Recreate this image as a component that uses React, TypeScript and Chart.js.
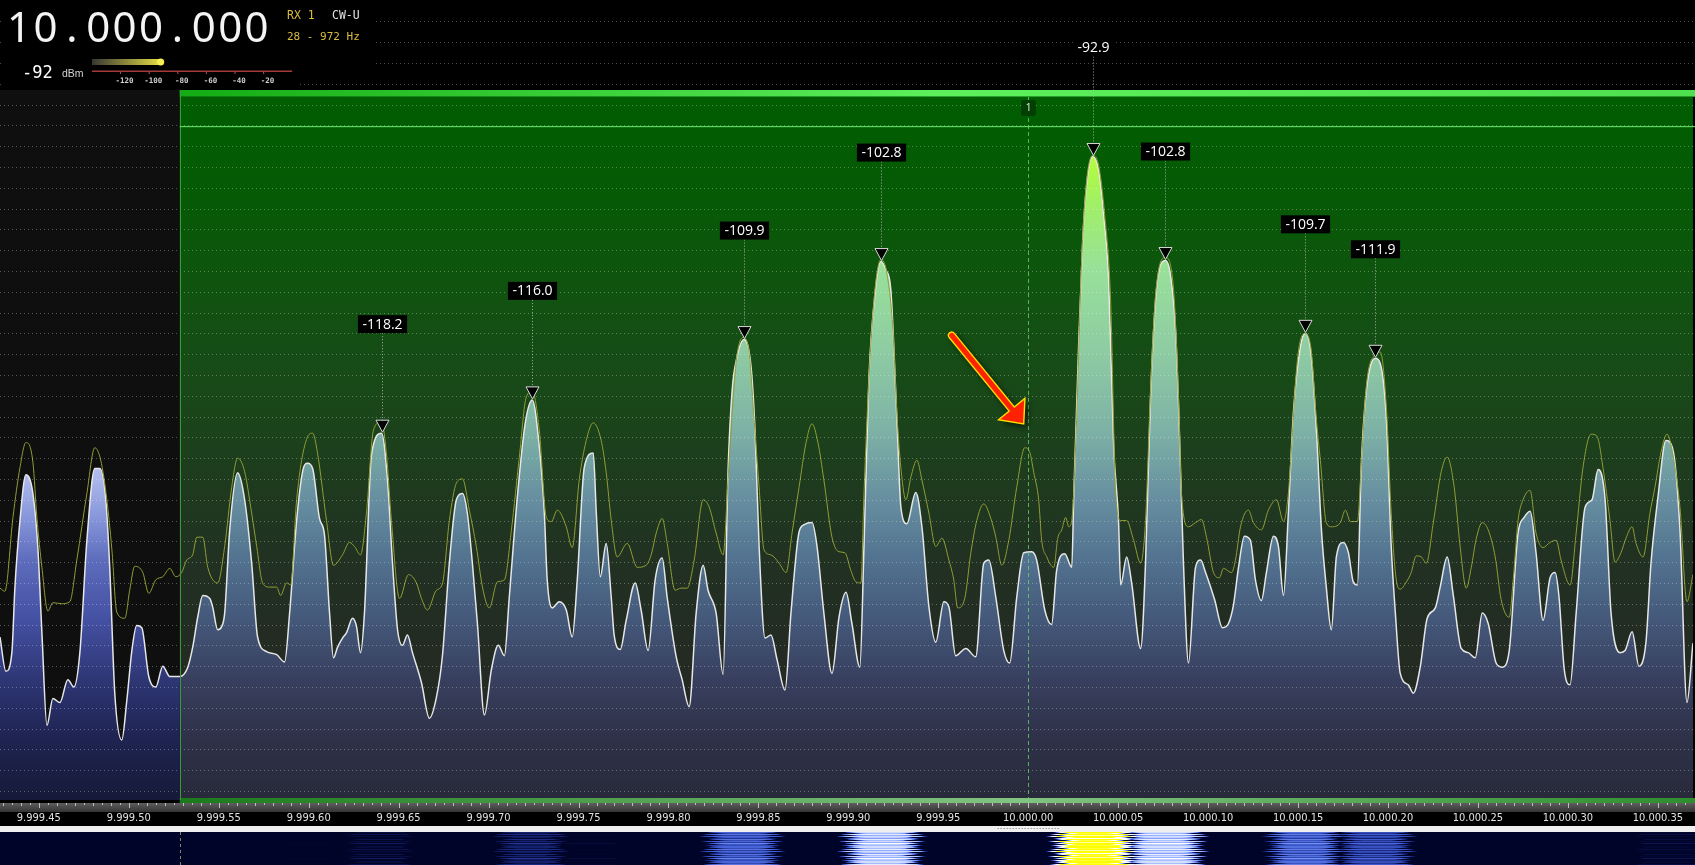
import React, { useEffect, useRef } from 'react';
import { Chart, registerables } from 'chart.js';

Chart.register(...registerables);

const CANVAS_W = 1695;
const CANVAS_H = 865;

// x values: offset in Hz from 10,000.000 kHz ; y values: dBm
const X_MIN_HZ = -571.6;
const X_MAX_HZ = 369.5;
const Y_MIN_DB = -154.87;
const Y_MAX_DB = -77.95;
const GRID_STEP_DB = 2;

const tickHz = [-550, -500, -450, -400, -350, -300, -250, -200, -150, -100, -50, 0, 50, 100, 150, 200, 250, 300, 350];
const tickLabels = ['9.999.45', '9.999.50', '9.999.55', '9.999.60', '9.999.65', '9.999.70', '9.999.75', '9.999.80', '9.999.85', '9.999.90', '9.999.95', '10.000.00', '10.000.05', '10.000.10', '10.000.15', '10.000.20', '10.000.25', '10.000.30', '10.000.35'];

// live spectrum [Hz offset, dBm]
const liveTrace: [number, number][] = [
  [-571.6,-139.2],[-568.3,-142.5],[-565.0,-140.7],[-563.3,-134.4],[-560.5,-128.0],[-557.2,-123.6],[-553.3,-125.4],[-550.5,-130.8],[-548.3,-138.8],[-545.5,-147.7],
  [-542.2,-145.1],[-538.3,-145.5],[-533.9,-143.3],[-530.5,-144.0],[-527.2,-140.7],[-523.3,-129.9],[-518.9,-123.0],[-516.1,-123.0],[-512.8,-126.0],[-510.6,-132.5],
  [-507.8,-144.6],[-503.9,-149.1],[-501.1,-145.3],[-498.3,-140.5],[-495.6,-138.1],[-492.8,-138.3],[-488.9,-143.0],[-485.0,-144.0],[-481.1,-142.0],[-477.2,-143.0],
  [-471.7,-143.0],[-467.2,-142.1],[-464.5,-140.2],[-461.7,-137.3],[-458.9,-135.2],[-455.0,-135.5],[-453.4,-136.3],[-450.6,-138.5],[-448.4,-138.2],[-446.7,-136.9],
  [-443.9,-128.9],[-439.5,-123.4],[-435.6,-126.0],[-431.7,-132.1],[-428.4,-139.2],[-423.4,-140.6],[-417.8,-140.9],[-413.4,-141.6],[-410.6,-136.9],[-406.7,-128.0],
  [-403.4,-123.3],[-400.6,-122.5],[-397.8,-123.0],[-394.0,-127.8],[-391.2,-129.4],[-388.4,-136.9],[-386.2,-141.2],[-384.0,-140.2],[-381.2,-139.3],[-379.0,-138.8],
  [-375.6,-137.4],[-373.4,-138.2],[-371.2,-140.7],[-369.0,-136.9],[-365.1,-121.7],[-359.5,-119.6],[-356.2,-124.1],[-353.4,-132.1],[-350.6,-138.5],[-347.9,-140.0],
  [-345.1,-139.0],[-342.3,-140.7],[-337.3,-143.6],[-332.9,-147.0],[-329.0,-145.0],[-325.7,-141.1],[-321.8,-132.1],[-317.9,-126.0],[-314.5,-125.4],[-311.8,-127.3],
  [-309.0,-132.1],[-306.2,-137.9],[-302.3,-146.7],[-298.5,-142.4],[-294.6,-140.0],[-291.2,-141.0],[-288.5,-135.4],[-284.0,-125.7],[-279.6,-118.6],[-275.7,-116.4],
  [-271.8,-120.9],[-269.0,-127.3],[-267.4,-133.7],[-264.6,-136.4],[-260.7,-135.8],[-256.8,-136.6],[-253.5,-139.2],[-250.7,-133.7],[-246.8,-122.9],[-241.8,-121.5],
  [-240.1,-127.3],[-237.9,-133.4],[-234.6,-130.2],[-231.8,-135.4],[-230.2,-139.0],[-226.8,-140.4],[-223.5,-137.6],[-218.5,-134.0],[-215.2,-136.6],[-211.3,-140.5],
  [-207.4,-133.7],[-203.5,-131.6],[-200.7,-135.4],[-195.7,-141.1],[-192.4,-143.3],[-188.5,-145.9],[-184.6,-136.9],[-180.7,-132.3],[-178.0,-134.7],[-173.5,-136.9],
  [-169.6,-142.8],[-166.9,-123.4],[-164.6,-115.5],[-161.9,-112.3],[-158.0,-110.6],[-154.1,-113.2],[-151.9,-119.3],[-149.6,-130.5],[-146.3,-139.3],[-143.0,-139.0],
  [-139.6,-141.4],[-135.2,-144.3],[-131.9,-136.9],[-127.4,-129.1],[-124.6,-128.4],[-120.2,-128.2],[-117.4,-130.5],[-113.6,-136.9],[-109.1,-142.7],[-105.2,-137.3],
  [-101.3,-134.9],[-98.0,-137.9],[-93.6,-142.1],[-91.3,-130.5],[-88.6,-114.5],[-84.7,-105.5],[-81.9,-103.1],[-79.1,-103.9],[-76.4,-105.8],[-73.0,-118.3],
  [-70.8,-126.7],[-67.5,-128.3],[-62.5,-125.3],[-59.1,-128.6],[-55.2,-136.3],[-51.4,-139.7],[-46.9,-135.8],[-44.1,-136.3],[-40.3,-141.0],[-34.7,-140.3],
  [-29.2,-141.1],[-24.7,-132.1],[-21.9,-131.8],[-18.0,-135.4],[-13.6,-140.5],[-10.3,-141.7],[-6.4,-135.4],[-2.5,-131.1],[1.9,-131.0],[4.7,-131.8],
  [9.2,-136.6],[13.0,-138.0],[15.8,-132.8],[20.3,-131.2],[24.2,-132.5],[25.3,-125.7],[28.0,-111.3],[30.3,-101.0],[32.5,-95.7],[35.8,-93.0],
  [39.1,-94.3],[41.9,-98.6],[44.7,-104.9],[47.5,-120.9],[50.2,-128.0],[51.4,-134.2],[54.7,-131.5],[57.5,-134.0],[62.5,-140.3],[65.2,-132.1],
  [68.0,-116.1],[70.8,-106.8],[73.6,-103.4],[76.3,-103.0],[79.1,-104.4],[81.9,-109.7],[83.6,-117.1],[86.3,-132.1],[89.1,-141.7],[93.0,-132.5],
  [95.8,-131.8],[98.6,-133.0],[103.6,-135.6],[108.0,-138.3],[111.3,-137.9],[114.1,-136.1],[116.9,-132.5],[120.2,-129.5],[123.5,-129.9],[126.3,-133.7],
  [129.6,-135.7],[132.4,-133.0],[136.3,-129.5],[139.1,-130.5],[141.9,-135.2],[144.6,-127.3],[147.4,-117.7],[151.3,-111.3],[154.1,-110.0],[157.4,-112.3],
  [160.2,-119.3],[163.0,-128.9],[165.7,-134.4],[168.5,-138.5],[171.3,-131.5],[175.2,-130.1],[178.0,-131.1],[180.7,-133.9],[183.0,-134.2],[185.2,-122.5],
  [188.0,-115.5],[193.0,-112.4],[195.7,-112.9],[199.1,-118.3],[201.8,-130.5],[204.1,-136.9],[206.8,-142.7],[211.3,-143.8],[214.1,-144.6],[217.9,-142.1],
  [221.8,-137.4],[226.3,-136.4],[229.0,-134.4],[232.9,-131.5],[236.3,-135.2],[240.7,-140.3],[244.6,-140.7],[248.5,-141.2],[252.4,-136.9],[255.7,-137.9],
  [260.1,-141.7],[263.5,-142.1],[267.4,-140.5],[272.3,-129.2],[275.7,-127.7],[279.0,-127.1],[282.3,-131.1],[286.2,-137.6],[290.1,-133.5],[292.9,-133.0],
  [295.1,-135.4],[297.9,-142.2],[301.2,-143.8],[304.6,-136.9],[309.6,-126.7],[313.4,-126.0],[316.8,-123.1],[320.7,-126.0],[324.0,-136.9],[329.0,-140.7],
  [331.8,-140.5],[335.7,-138.7],[339.5,-142.0],[343.4,-139.7],[346.2,-132.1],[350.1,-125.7],[354.5,-120.3],[358.4,-121.2],[362.3,-128.9],[366.2,-145.5],
  [369.5,-139.8],
];

// peak-hold / average trace [Hz offset, dBm]
const holdTrace: [number, number][] = [
  [-571.6,-134.5],[-568.9,-134.8],[-564.4,-127.7],[-560.5,-122.9],[-557.2,-120.5],[-553.3,-122.4],[-551.1,-127.7],[-548.3,-132.5],[-545.0,-136.7],[-542.2,-135.9],
  [-537.2,-136.0],[-532.8,-135.8],[-528.9,-131.8],[-523.3,-125.4],[-518.9,-121.0],[-515.6,-122.2],[-512.2,-126.0],[-509.4,-130.8],[-506.7,-136.8],[-502.2,-137.4],
  [-499.5,-134.7],[-496.7,-132.4],[-492.2,-133.0],[-488.9,-135.0],[-485.0,-133.7],[-481.1,-133.4],[-477.2,-132.6],[-473.9,-133.4],[-470.6,-133.0],[-467.8,-131.8],
  [-464.5,-131.3],[-462.2,-129.6],[-458.9,-129.6],[-456.1,-132.5],[-450.6,-134.0],[-446.7,-130.5],[-442.8,-124.8],[-439.5,-122.0],[-435.6,-123.3],[-431.7,-127.3],
  [-428.9,-130.5],[-425.6,-134.0],[-421.7,-134.4],[-417.8,-134.4],[-415.6,-135.2],[-412.3,-134.0],[-410.0,-134.2],[-406.7,-126.0],[-401.2,-120.2],[-397.8,-119.6],
  [-395.1,-121.5],[-390.1,-128.0],[-386.2,-132.3],[-381.2,-131.3],[-377.3,-130.1],[-374.5,-130.5],[-371.2,-131.3],[-367.9,-127.3],[-364.0,-119.3],[-359.5,-118.5],
  [-356.8,-121.5],[-354.0,-128.0],[-349.5,-135.5],[-344.5,-133.2],[-340.1,-134.0],[-337.3,-135.5],[-334.0,-136.6],[-329.0,-134.7],[-325.7,-134.1],[-321.8,-128.0],
  [-317.9,-124.4],[-314.5,-124.0],[-310.7,-127.0],[-306.8,-130.5],[-303.4,-134.4],[-299.6,-136.4],[-295.1,-133.9],[-291.2,-133.7],[-287.3,-128.9],[-282.9,-121.9],
  [-279.0,-116.1],[-275.7,-115.6],[-271.8,-119.3],[-267.9,-127.7],[-265.1,-128.1],[-261.8,-127.0],[-256.8,-128.6],[-253.5,-130.6],[-249.6,-124.1],[-245.7,-120.3],
  [-241.8,-118.6],[-237.4,-120.3],[-234.6,-123.4],[-231.8,-128.0],[-228.5,-131.5],[-222.9,-130.2],[-217.4,-132.5],[-212.4,-132.3],[-209.6,-131.3],[-206.8,-129.2],
  [-203.5,-127.8],[-200.7,-130.2],[-196.3,-134.7],[-193.0,-134.5],[-189.6,-134.5],[-185.7,-131.8],[-180.7,-126.0],[-177.4,-126.7],[-173.5,-129.2],[-169.6,-131.3],
  [-166.9,-124.1],[-164.1,-116.4],[-161.9,-112.1],[-158.5,-110.4],[-155.2,-111.8],[-152.4,-118.3],[-149.6,-124.8],[-146.9,-130.8],[-143.0,-131.3],[-138.5,-132.1],
  [-134.6,-133.0],[-131.3,-129.2],[-127.4,-124.8],[-123.5,-120.5],[-120.2,-118.7],[-116.9,-120.5],[-113.6,-124.1],[-109.1,-129.6],[-105.2,-131.0],[-101.9,-131.1],
  [-98.6,-132.8],[-95.8,-133.9],[-93.0,-134.0],[-91.3,-125.4],[-88.6,-114.5],[-85.2,-105.8],[-81.9,-102.9],[-78.6,-104.2],[-75.2,-109.7],[-73.0,-117.7],
  [-70.8,-122.9],[-68.0,-126.0],[-65.2,-123.8],[-61.9,-122.2],[-59.1,-124.1],[-55.2,-127.3],[-51.4,-130.5],[-48.0,-129.7],[-44.1,-131.8],[-41.4,-133.7],
  [-39.2,-136.4],[-35.3,-135.5],[-31.9,-131.1],[-28.6,-128.0],[-24.7,-126.4],[-20.8,-127.8],[-18.0,-129.6],[-14.7,-132.3],[-10.8,-129.9],[-6.4,-124.8],
  [-1.9,-121.0],[0.8,-121.4],[3.1,-123.4],[5.8,-126.0],[7.5,-129.9],[10.3,-131.5],[14.2,-132.5],[16.4,-129.7],[18.6,-128.9],[20.8,-127.7],
  [22.5,-128.6],[24.2,-128.0],[26.9,-118.3],[29.7,-103.0],[32.5,-95.3],[35.8,-92.9],[39.1,-93.8],[42.5,-98.6],[45.8,-106.8],[48.6,-125.4],
  [51.4,-128.0],[54.7,-128.0],[58.6,-129.9],[62.5,-132.1],[65.2,-128.0],[68.0,-115.5],[70.8,-106.3],[76.3,-102.7],[80.8,-105.8],[83.6,-116.4],
  [85.2,-125.4],[89.1,-128.6],[93.0,-128.2],[96.3,-127.9],[99.1,-129.6],[103.0,-133.0],[106.3,-133.5],[108.5,-132.6],[113.0,-133.0],[115.2,-131.8],
  [118.0,-128.6],[122.4,-127.0],[125.2,-128.2],[129.6,-128.9],[133.5,-127.0],[138.0,-126.0],[141.9,-128.1],[144.6,-125.4],[146.3,-121.2],[149.6,-112.6],
  [153.5,-110.0],[156.9,-111.1],[160.2,-118.3],[162.4,-122.2],[165.7,-128.2],[168.5,-128.6],[173.5,-128.2],[176.3,-127.0],[179.1,-128.1],[183.0,-128.1],
  [185.2,-122.5],[188.0,-115.0],[192.4,-112.1],[195.7,-111.8],[199.1,-117.1],[201.8,-127.3],[204.6,-133.7],[206.8,-134.6],[210.2,-133.9],[212.9,-133.0],
  [215.7,-131.4],[218.5,-131.5],[221.3,-132.1],[225.2,-128.2],[229.6,-123.3],[232.9,-121.9],[236.8,-124.8],[240.1,-130.5],[243.5,-134.5],[246.3,-132.5],
  [249.0,-129.8],[252.4,-128.2],[255.7,-128.9],[259.6,-131.5],[262.9,-135.6],[267.4,-137.3],[269.6,-133.7],[272.3,-128.0],[275.1,-126.0],[279.0,-125.1],
  [282.3,-129.2],[286.2,-130.6],[290.1,-130.1],[293.5,-129.9],[296.2,-131.8],[301.2,-134.2],[304.6,-129.2],[308.4,-122.9],[312.9,-119.7],[316.2,-119.9],
  [319.5,-122.9],[323.4,-128.0],[326.2,-132.0],[329.5,-131.1],[332.3,-129.7],[335.7,-128.6],[337.9,-130.2],[341.8,-131.5],[345.6,-127.3],[348.4,-124.8],
  [351.8,-121.4],[355.1,-119.7],[358.4,-121.7],[362.3,-126.7],[366.2,-135.8],[369.5,-133.2],
];

// peak markers
const peakHz = [-359.5, -275.7, -158.0, -81.9, 35.8, 76.3, 154.1, 193.0];
const peakDb = [-119.6, -116.4, -110.6, -103.1, -93.0, -103.0, -110.0, -112.4];
const peakText = ['-118.2', '-116.0', '-109.9', '-102.8', '-92.9', '-102.8', '-109.7', '-111.9'];

const passbandLowHz = -471.7;
const squelchDb = -90.1;
const vfoHz = 0;
const vfoLabel = '1';
const filterMarkHz = [-17, 17.5];
const arrowFrom = [-42.5, -110.2];
const arrowTo = [-2.5, -118.7];

const freqText = '10.000.000';
const rxText = 'RX 1';
const modeText = 'CW-U';
const bwText = '28 - 972 Hz';
const meterDb = -92;
const meterUnit = 'dBm';
const meterTicks = [-120, -100, -80, -60, -40, -20];

// waterfall row look (history spread in px, level shift in dB)
const wfSpread = [22, 14, 26, 18, 30, 16, 24, 20, 12, 28, 18, 22, 15, 26, 20];
const wfOffset = [0, -2, 1, -3, 0, -1, -4, 1, -2, 0, -3, 2, -1, -2, 0];
const wfColors: number[][] = [
  [-121, 0, 4, 40], [-116, 22, 36, 120], [-111, 66, 96, 215], [-106, 150, 175, 255],
  [-101, 255, 255, 255], [-97, 255, 255, 255], [-94.5, 255, 255, 0],
];

const PB_TOP = 90;

function wfColor(v: number): number[] {
  if (v <= wfColors[0][0]) return [wfColors[0][1], wfColors[0][2], wfColors[0][3]];
  for (let i = 1; i < wfColors.length; i++) {
    const a = wfColors[i - 1], b = wfColors[i];
    if (v <= b[0]) {
      const t = (v - a[0]) / (b[0] - a[0]);
      return [a[1] + (b[1] - a[1]) * t, a[2] + (b[2] - a[2]) * t, a[3] + (b[3] - a[3]) * t];
    }
  }
  const l = wfColors[wfColors.length - 1];
  return [l[1], l[2], l[3]];
}

function getFillPattern(chart: any) {
  if (chart.$fillPattern) return chart.$fillPattern;
  const w = chart.width, h = chart.chartArea.bottom;
  const split = chart.scales.x.getPixelForValue(passbandLowHz);
  const c = document.createElement('canvas');
  c.width = w; c.height = h;
  const g = c.getContext('2d')!;
  const gin = g.createLinearGradient(0, 0, 0, h);
  const inStops: [number, string][] = [
    [0, '#c0ff20'], [150, '#b8ff30'], [200, '#a2f064'], [270, '#98e09a'], [350, '#8ecca2'],
    [430, '#7eb2a6'], [500, '#668ea0'], [560, '#52728f'], [620, '#44587a'], [680, '#383f5e'],
    [740, '#2e3148'], [800, '#282a3a'],
  ];
  inStops.forEach(([y, col]) => gin.addColorStop(Math.min(1, y / h), col));
  g.fillStyle = gin;
  g.fillRect(split, 0, w - split, h);
  const gout = g.createLinearGradient(0, 0, 0, h);
  const outStops: [number, string][] = [
    [0, '#d0d8f8'], [440, '#c4ccf2'], [480, '#aab6ec'], [520, '#8494d8'], [560, '#5e6cbc'],
    [620, '#4450a2'], [680, '#2e3674'], [740, '#1e2350'], [800, '#161a38'],
  ];
  outStops.forEach(([y, col]) => gout.addColorStop(Math.min(1, y / h), col));
  g.fillStyle = gout;
  g.fillRect(0, 0, split, h);
  chart.$fillPattern = chart.ctx.createPattern(c, 'no-repeat');
  return chart.$fillPattern;
}

function drawArrow(ctx: CanvasRenderingContext2D, x1: number, y1: number, x2: number, y2: number) {
  const ang = Math.atan2(y2 - y1, x2 - x1);
  const headLen = 19, headHalf = 17, shaft = 3.3;
  const bx = x2 - Math.cos(ang) * headLen, by = y2 - Math.sin(ang) * headLen;
  const nx = -Math.sin(ang), ny = Math.cos(ang);
  ctx.beginPath();
  ctx.moveTo(x1 + nx * shaft, y1 + ny * shaft);
  ctx.lineTo(bx + nx * shaft, by + ny * shaft);
  ctx.lineTo(bx + nx * headHalf, by + ny * headHalf);
  ctx.lineTo(x2, y2);
  ctx.lineTo(bx - nx * headHalf, by - ny * headHalf);
  ctx.lineTo(bx - nx * shaft, by - ny * shaft);
  ctx.lineTo(x1 - nx * shaft, y1 - ny * shaft);
  ctx.arc(x1, y1, shaft, ang - Math.PI / 2, ang + Math.PI / 2, true);
  ctx.closePath();
  ctx.save();
  ctx.shadowColor = 'rgba(0,0,0,0.65)';
  ctx.shadowBlur = 6;
  ctx.shadowOffsetX = 3;
  ctx.shadowOffsetY = 3;
  ctx.fillStyle = '#ff2200';
  ctx.fill();
  ctx.restore();
  ctx.lineWidth = 1.4;
  ctx.strokeStyle = '#ffdc00';
  ctx.lineJoin = 'miter';
  ctx.stroke();
}

const sdrPlugin = {
  id: 'sdrDecor',
  beforeDraw(chart: any) {
    const { ctx, chartArea: a } = chart;
    const xs = chart.scales.x;
    ctx.save();
    ctx.fillStyle = '#000';
    ctx.fillRect(0, 0, chart.width, chart.height);
    ctx.fillStyle = '#0f0f0f';
    ctx.fillRect(a.left, PB_TOP, a.right - a.left, a.bottom - PB_TOP);
    const px = xs.getPixelForValue(passbandLowHz);
    const g = ctx.createLinearGradient(0, PB_TOP, 0, a.bottom);
    const stops: [number, string][] = [
      [90, '#005e00'], [200, '#065a06'], [300, '#115211'], [400, '#194719'], [480, '#1e3b1e'],
      [560, '#213122'], [650, '#232b23'], [800, '#242824'],
    ];
    stops.forEach(([y, c]) => g.addColorStop(Math.min(1, Math.max(0, (y - PB_TOP) / (a.bottom - PB_TOP))), c));
    ctx.fillStyle = g;
    ctx.fillRect(px, PB_TOP, a.right - px, a.bottom - PB_TOP);
    ctx.restore();
  },
  afterDatasetsDraw(chart: any) {
    const { ctx, chartArea: a } = chart;
    const xs = chart.scales.x, ys = chart.scales.y;
    const W = chart.width;
    ctx.save();

    // dotted dB grid
    ctx.strokeStyle = 'rgba(255,255,255,0.3)';
    ctx.lineWidth = 1;
    ctx.setLineDash([1, 3]);
    const first = Math.floor((Y_MAX_DB - 1) / GRID_STEP_DB) * GRID_STEP_DB;
    for (let v = first; v > Y_MIN_DB; v -= GRID_STEP_DB) {
      const y = Math.round(ys.getPixelForValue(v)) + 0.5;
      ctx.beginPath(); ctx.moveTo(0, y); ctx.lineTo(W, y); ctx.stroke();
    }
    ctx.setLineDash([]);

    // passband frame
    const px = xs.getPixelForValue(passbandLowHz);
    const tg = ctx.createLinearGradient(px, 0, W, 0);
    tg.addColorStop(0, '#14ac14'); tg.addColorStop(0.5, '#5cf05c'); tg.addColorStop(1, '#4ee04e');
    ctx.fillStyle = tg;
    ctx.fillRect(px, PB_TOP, W - px, 7);
    ctx.fillStyle = 'rgba(0,80,0,0.5)';
    ctx.fillRect(px, PB_TOP + 6, W - px, 1);
    const bg = ctx.createLinearGradient(px, 0, W, 0);
    bg.addColorStop(0, '#1a7a1a'); bg.addColorStop(0.55, '#82c482'); bg.addColorStop(1, '#2e8e2e');
    ctx.fillStyle = bg;
    ctx.fillRect(px, a.bottom - 2, W - px, 5);
    ctx.fillStyle = '#3a9a3a';
    ctx.fillRect(Math.round(px), PB_TOP, 1, a.bottom - PB_TOP);
    const sy = Math.round(ys.getPixelForValue(squelchDb));
    ctx.fillStyle = '#5fd35f';
    ctx.fillRect(px, sy, W - px, 1.2);

    // VFO marker
    const vx = Math.round(xs.getPixelForValue(vfoHz)) + 0.5;
    ctx.strokeStyle = 'rgba(110,215,110,0.75)';
    ctx.setLineDash([4, 3]);
    ctx.beginPath(); ctx.moveTo(vx, PB_TOP + 7); ctx.lineTo(vx, a.bottom - 2); ctx.stroke();
    ctx.setLineDash([]);
    ctx.fillStyle = '#033f03';
    ctx.beginPath();
    (ctx as any).roundRect(vx - 7.5, 100, 15, 16, 3);
    ctx.fill();
    ctx.fillStyle = '#d6ecd6';
    ctx.font = '10px "Noto Sans", sans-serif';
    ctx.textAlign = 'center';
    ctx.textBaseline = 'middle';
    ctx.fillText(vfoLabel, vx, 108.5);

    // peak markers + labels
    ctx.font = '14px "Open Sans", "Noto Sans", sans-serif';
    for (let i = 0; i < peakHz.length; i++) {
      const mx = Math.round(xs.getPixelForValue(peakHz[i])) + 0.5;
      const tip = ys.getPixelForValue(peakDb[i]) - 1;
      const ly = tip - 108;
      ctx.strokeStyle = 'rgba(190,190,190,0.85)';
      ctx.lineWidth = 1;
      ctx.setLineDash([1, 2]);
      ctx.beginPath(); ctx.moveTo(mx, ly + 9); ctx.lineTo(mx, tip - 11); ctx.stroke();
      ctx.setLineDash([]);
      ctx.beginPath();
      ctx.moveTo(mx - 6.5, tip - 12);
      ctx.lineTo(mx + 6.5, tip - 12);
      ctx.lineTo(mx, tip);
      ctx.closePath();
      ctx.fillStyle = '#000';
      ctx.fill();
      ctx.strokeStyle = '#d8d8d8';
      ctx.stroke();
      const tw = ctx.measureText(peakText[i]).width;
      ctx.fillStyle = '#000';
      ctx.fillRect(mx - tw / 2 - 4.5, ly - 9, tw + 9, 18);
      ctx.fillStyle = '#ffffff';
      ctx.textAlign = 'center';
      ctx.textBaseline = 'middle';
      ctx.fillText(peakText[i], mx, ly + 0.5);
    }

    // annotation arrow
    drawArrow(ctx, xs.getPixelForValue(arrowFrom[0]), ys.getPixelForValue(arrowFrom[1]),
      xs.getPixelForValue(arrowTo[0]), ys.getPixelForValue(arrowTo[1]));

    // header panel
    ctx.fillStyle = '#000';
    ctx.fillRect(4, 0, 369, 76);
    ctx.fillRect(4, 76, 293, 13);
    ctx.fillStyle = '#f4f4f4';
    ctx.font = '42px "Noto Sans", sans-serif';
    ctx.textAlign = 'center';
    ctx.textBaseline = 'alphabetic';
    for (let i = 0; i < freqText.length; i++) ctx.fillText(freqText[i], 19 + i * 26.4, 42);
    ctx.textAlign = 'left';
    ctx.font = '11.5px "DejaVu Sans Mono", monospace';
    ctx.fillStyle = '#d9bd3f';
    ctx.fillText(rxText, 287, 19);
    ctx.fillStyle = '#e2e2e2';
    ctx.fillText(modeText, 332, 19);
    ctx.font = '11px "DejaVu Sans Mono", monospace';
    ctx.fillStyle = '#d9bd3f';
    ctx.fillText(bwText, 287, 40);
    ctx.font = '17px "DejaVu Sans Mono", monospace';
    ctx.fillStyle = '#ffffff';
    ctx.fillText(String(meterDb), 22, 78);
    ctx.font = '10.5px "Liberation Sans", sans-serif';
    ctx.fillStyle = '#d4d4d4';
    ctx.fillText(meterUnit, 62, 77);
    const mxp = (d: number) => 92 + (d + 140) * 1.43;
    const mg = ctx.createLinearGradient(92, 0, mxp(meterDb), 0);
    mg.addColorStop(0, '#363632'); mg.addColorStop(1, '#e4dc46');
    ctx.fillStyle = mg;
    ctx.fillRect(92, 59, mxp(meterDb) - 92, 6);
    ctx.beginPath(); ctx.arc(mxp(meterDb), 62, 3.6, 0, Math.PI * 2);
    ctx.fillStyle = '#f4f052'; ctx.fill();
    ctx.fillStyle = '#a33a3a';
    ctx.fillRect(92, 70.5, mxp(0) - 92, 1.5);
    ctx.font = 'bold 7.5px "DejaVu Sans Mono", monospace';
    ctx.textAlign = 'center';
    meterTicks.forEach((t) => {
      const x = mxp(t);
      ctx.fillStyle = '#c24a4a';
      ctx.fillRect(x - 0.5, 72, 1, 2);
      ctx.fillStyle = '#d0d0d0';
      ctx.fillText(String(t), x + 4, 83);
    });
    ctx.restore();
  },
  afterDraw(chart: any) {
    const { ctx, chartArea: a } = chart;
    const xs = chart.scales.x;
    const W = chart.width;
    ctx.save();
    // frequency tick strip
    const sTop = a.bottom + 3;
    const sg = ctx.createLinearGradient(0, sTop, 0, sTop + 9);
    sg.addColorStop(0, '#5e5e5e'); sg.addColorStop(1, '#343434');
    ctx.fillStyle = sg;
    ctx.fillRect(0, sTop, W, 9);
    ctx.fillStyle = 'rgba(225,225,225,0.75)';
    for (let hz = Math.ceil(X_MIN_HZ / 5) * 5; hz <= X_MAX_HZ; hz += 5) {
      const x = Math.round(xs.getPixelForValue(hz));
      const h = hz % 50 === 0 ? 5 : hz % 10 === 0 ? 3 : 2;
      ctx.fillRect(x, sTop, 1, h);
    }
    // white band
    const wbTop = 826;
    ctx.fillStyle = '#f0f0f0';
    ctx.fillRect(0, wbTop, W, 6);
    ctx.strokeStyle = '#777';
    ctx.setLineDash([1, 2]);
    ctx.beginPath();
    ctx.moveTo(xs.getPixelForValue(filterMarkHz[0]), wbTop + 2.5);
    ctx.lineTo(xs.getPixelForValue(filterMarkHz[1]), wbTop + 2.5);
    ctx.stroke();
    ctx.setLineDash([]);

    // waterfall
    const wfTop = wbTop + 6;
    const rows = chart.height - wfTop;
    const dense = new Float32Array(W);
    let j = 0;
    for (let p = 0; p < W; p++) {
      const hz = xs.getValueForPixel(p + 0.5);
      while (j < liveTrace.length - 2 && liveTrace[j + 1][0] < hz) j++;
      const [x0, y0] = liveTrace[j];
      const [x1, y1] = liveTrace[j + 1];
      const t = Math.max(0, Math.min(1, (hz - x0) / (x1 - x0)));
      dense[p] = y0 + t * (y1 - y0);
    }
    const img = ctx.createImageData(W, rows);
    for (let r = 0; r < rows; r++) {
      const sp = wfSpread[r % wfSpread.length];
      const off = wfOffset[r % wfOffset.length];
      for (let p = 0; p < W; p++) {
        let m = -999;
        const lo = Math.max(0, p - sp), hi = Math.min(W - 1, p + sp);
        for (let q = lo; q <= hi; q++) if (dense[q] > m) m = dense[q];
        const c = wfColor(m + off);
        const k = (r * W + p) * 4;
        img.data[k] = c[0]; img.data[k + 1] = c[1]; img.data[k + 2] = c[2]; img.data[k + 3] = 255;
      }
    }
    ctx.putImageData(img, 0, wfTop);
    const px = Math.round(xs.getPixelForValue(passbandLowHz)) + 0.5;
    ctx.strokeStyle = 'rgba(120,170,120,0.85)';
    ctx.setLineDash([3, 3]);
    ctx.beginPath(); ctx.moveTo(px, wfTop); ctx.lineTo(px, chart.height); ctx.stroke();
    ctx.restore();
  },
};

export default function App() {
  const ref = useRef<HTMLCanvasElement>(null);
  useEffect(() => {
    document.body.style.margin = '0';
    document.body.style.background = '#000';
    const canvas = ref.current!;
    const chart = new Chart(canvas, {
      type: 'line',
      data: {
        datasets: [
          {
            label: 'Peak hold',
            data: holdTrace.map(([x, y]) => ({ x, y })),
            borderColor: '#8f9d34',
            borderWidth: 1,
            pointRadius: 0,
            fill: false,
            cubicInterpolationMode: 'monotone',
          },
          {
            label: 'Spectrum',
            data: liveTrace.map(([x, y]) => ({ x, y })),
            borderColor: '#e6e6e6',
            borderWidth: 1.5,
            pointRadius: 0,
            fill: 'start',
            backgroundColor: (c: any) => {
              const ch = c.chart;
              if (!ch.chartArea || !ch.scales || !ch.scales.x) return 'rgba(0,0,0,0)';
              return getFillPattern(ch);
            },
            cubicInterpolationMode: 'monotone',
          },
        ],
      },
      options: {
        animation: false,
        responsive: false,
        devicePixelRatio: 1,
        events: [],
        layout: { padding: 0 },
        plugins: { legend: { display: false }, tooltip: { enabled: false } },
        scales: {
          x: {
            type: 'linear',
            min: X_MIN_HZ,
            max: X_MAX_HZ,
            afterBuildTicks: (s: any) => { s.ticks = tickHz.map((v) => ({ value: v })); },
            afterFit: (s: any) => { s.height = 65; },
            grid: { display: false, drawTicks: false },
            border: { display: false },
            ticks: {
              autoSkip: false,
              maxRotation: 0,
              minRotation: 0,
              padding: 12,
              color: '#e2e2e2',
              font: { family: "'Liberation Sans Narrow', 'DejaVu Sans Condensed', sans-serif", size: 11 },
              callback: (_v: any, i: number) => tickLabels[i] ?? '',
            },
          },
          y: { type: 'linear', min: Y_MIN_DB, max: Y_MAX_DB, display: false },
        },
      },
      plugins: [sdrPlugin],
    } as any);
    return () => chart.destroy();
  }, []);
  return <canvas ref={ref} width={CANVAS_W} height={CANVAS_H} style={{ display: 'block', width: CANVAS_W, height: CANVAS_H }} />;
}
